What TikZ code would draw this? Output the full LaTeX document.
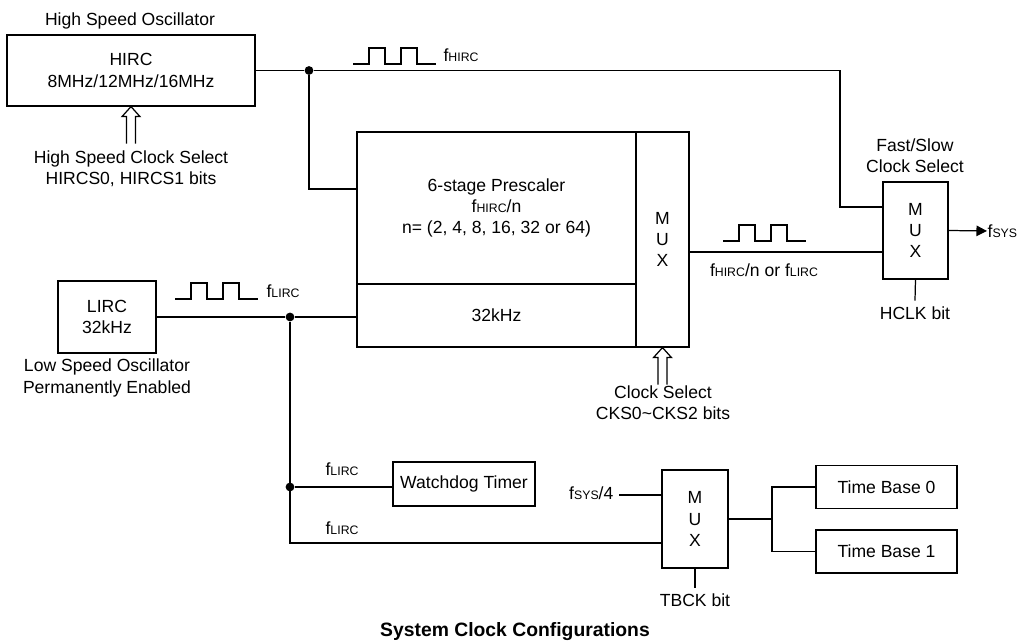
\documentclass[tikz,border=0pt]{standalone}
\usepackage{fontspec}
\setmainfont{Liberation Sans}
\usetikzlibrary{arrows.meta, positioning}

\newcommand{\fq}[1]{f{\fontsize{7}{8}\selectfont #1}}

\begin{document}
\begin{tikzpicture}[
  x=0.02cm, y=-0.02cm,
  line width=0.7pt,
  font=\fontsize{10}{12}\selectfont,
  blk/.style={
    draw, rectangle, align=center, inner sep=2pt
  },
  muxbox/.style={
    draw, rectangle, align=center, inner sep=0pt
  },
  lbl/.style={align=center, inner sep=1pt},
  bitlbl/.style={align=center, inner sep=3pt},
  sig/.style={inner sep=0pt, anchor=base west},
  jdot/.style={circle, fill, inner sep=0pt, minimum size=5pt},
  sigarrow/.style={-{Triangle[length=6pt, width=6pt]}},
  wave/.pic={
    \draw (0,0) -- (16,0) -- (16,-16) -- (32,-16) -- (32,0) -- (48,0)
      -- (48,-16) -- (64,-16) -- (64,0) -- (83,0);
  },
  selarrow/.pic={
    \draw (-4.5,37) -- (-4.5,10) -- (-9,10) -- (0,0) -- (9,10)
      -- (4.5,10) -- (4.5,37);
  },
]
\useasboundingbox (0,0) rectangle (1019,644);

% ============================================================
% OSCILLATORS
% ============================================================
\node[blk, minimum width=4.96cm, minimum height=1.42cm] (hirc) at (131,70.5)
  {HIRC\\8MHz/12MHz/16MHz};
\node[lbl] (hosc) at (130,21) {High Speed Oscillator};
\node[lbl] (hsel) at (131,169) {High Speed Clock Select\\HIRCS0, HIRCS1 bits};
\pic at (hirc.south) {selarrow};

\node[blk, minimum width=1.96cm, minimum height=1.44cm] (lirc) at (107,317)
  {LIRC\\32kHz};
\node[lbl] (losc) at (107,378) {Low Speed Oscillator\\Permanently Enabled};

% ============================================================
% PRESCALER AND CLOCK SELECT MUX
% ============================================================
\node[blk, minimum width=5.58cm, minimum height=3.04cm] (pre) at (496.5,208)
  {6-stage Prescaler\\\fq{HIRC}/n\\n= (2, 4, 8, 16, 32 or 64)};
\node[blk, minimum width=5.58cm, minimum height=1.26cm] (lowdiv) at (496.5,315.5)
  {32kHz};
\node[muxbox, minimum width=1.06cm, minimum height=4.3cm] (cmux) at (662.5,239.5)
  {M\\U\\X};
\node[lbl] (csel) at (663,403) {Clock Select\\CKS0\textasciitilde CKS2 bits};
\pic at (cmux.south) {selarrow};

% ============================================================
% FAST/SLOW MUX
% ============================================================
\node[muxbox, minimum width=1.3cm, minimum height=1.94cm] (fmux) at (915.5,230.5)
  {M\\U\\X};
\node[lbl] (fsel) at (915,156) {Fast/Slow\\Clock Select};
\node[bitlbl] (hclk) at (915,313) {HCLK bit};
\node[sig, anchor=west] (fsys) at (987,231) {\fq{SYS}};

% ============================================================
% WATCHDOG AND TIME BASE
% ============================================================
\node[blk, minimum width=2.84cm, minimum height=0.88cm] (wdt) at (464,484)
  {Watchdog Timer};
\node[muxbox, minimum width=1.32cm, minimum height=1.96cm] (tbmux) at (695,519)
  {M\\U\\X};
\node[blk, minimum width=2.82cm, minimum height=0.86cm] (tb0) at (886.5,487)
  {Time Base 0};
\node[blk, minimum width=2.82cm, minimum height=0.86cm] (tb1) at (886.5,551.5)
  {Time Base 1};
\node[bitlbl] (tbck) at (695,600) {TBCK bit};
\node[sig, anchor=base east] (fsys4) at (614,500) {\fq{SYS}/4};

% junctions
\node[jdot] (hdot) at (309,70.5) {};
\node[jdot] (ldot) at (290,317) {};
\node[jdot] (wdot) at (290,487) {};
\coordinate (hturn) at (840,70.5);
\coordinate (lturn) at (290,543);
\coordinate (tbsplit) at (772,519);
\coordinate (muxout) at (0,252);
\coordinate (tbin) at (619,495);

% ============================================================
% CONNECTIONS
% ============================================================
\draw (hirc.east) -- (hdot);
\draw (hdot) -- (hturn) |- ([yshift=0.47cm]fmux.west);
\draw (hdot) |- ([yshift=0.38cm]pre.west);
\draw (lirc.east) -- (ldot);
\draw (ldot) -- (lowdiv.west |- ldot);
\draw (cmux.east |- muxout) -- (fmux.west |- muxout);
\draw[sigarrow] (fmux.east) -- (fsys.west);
\draw (fmux.south) -- (hclk.north);

\draw (ldot) -- (lturn) -- (tbmux.west |- lturn);
\draw (wdot) -- (wdt.west |- wdot);
\draw (tbin) -- (tbmux.west |- tbin);
\draw (tbmux.east |- tbsplit) -- (tbsplit);
\draw (tb0.west) -| (tbsplit) |- (tb1.west);
\draw (tbmux.south) -- (tbck.north);

% signal waveforms and labels
\pic at (353,64) {wave};
\node[sig] (fhirc) at (443,62) {\fq{HIRC}};
\pic at (175,299) {wave};
\node[sig] (flirc) at (266,298) {\fq{LIRC}};
\pic at (723,241) {wave};
\node[lbl] (muxsig) at (764,270) {\fq{HIRC}/n or \fq{LIRC}};
\node[sig] (flircw) at (325,476) {\fq{LIRC}};
\node[sig] (flirct) at (325,535) {\fq{LIRC}};

\node[font=\fontsize{11}{13}\selectfont\bfseries] (title) at (515,632)
  {System Clock Configurations};

\end{tikzpicture}
\end{document}
